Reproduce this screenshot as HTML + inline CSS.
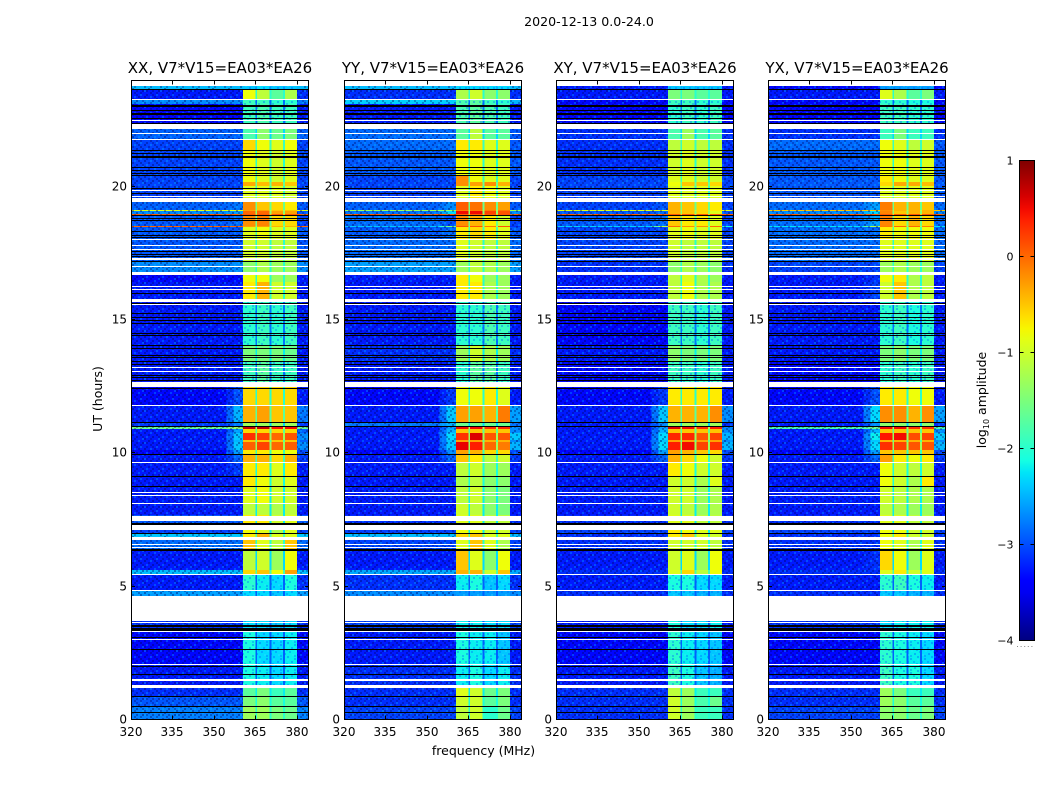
<!DOCTYPE html>
<html lang="en">
<head>
<meta charset="utf-8">
<title>2020-12-13 0.0-24.0</title>
<style>
html,body{margin:0;padding:0;background:#fff;width:1050px;height:800px;overflow:hidden}
svg{display:block}
text{font-family:"DejaVu Sans","Liberation Sans",sans-serif;fill:#000}
</style>
</head>
<body>
<svg id="fig" xmlns="http://www.w3.org/2000/svg" width="1050" height="800" viewBox="0 0 1050 800">
<defs>
<pattern id="speckle" width="16" height="16" patternUnits="userSpaceOnUse">
<rect x="0" y="0" width="2" height="2" fill="#000060" opacity=".4"/>
<rect x="6" y="0" width="2" height="2" fill="#00c8ff" opacity=".3"/>
<rect x="10" y="0" width="2" height="2" fill="#000060" opacity=".35"/>
<rect x="4" y="2" width="2" height="2" fill="#000060" opacity=".35"/>
<rect x="12" y="2" width="2" height="2" fill="#000060" opacity=".4"/>
<rect x="2" y="4" width="2" height="2" fill="#00c8ff" opacity=".3"/>
<rect x="8" y="4" width="2" height="2" fill="#000060" opacity=".4"/>
<rect x="14" y="4" width="2" height="2" fill="#000060" opacity=".3"/>
<rect x="0" y="6" width="2" height="2" fill="#000060" opacity=".35"/>
<rect x="6" y="6" width="2" height="2" fill="#000060" opacity=".3"/>
<rect x="14" y="6" width="2" height="2" fill="#00c8ff" opacity=".3"/>
<rect x="4" y="8" width="2" height="2" fill="#000060" opacity=".4"/>
<rect x="10" y="8" width="2" height="2" fill="#00c8ff" opacity=".3"/>
<rect x="2" y="10" width="2" height="2" fill="#000060" opacity=".3"/>
<rect x="0" y="10" width="2" height="2" fill="#00c8ff" opacity=".3"/>
<rect x="8" y="10" width="2" height="2" fill="#000060" opacity=".35"/>
<rect x="14" y="10" width="2" height="2" fill="#000060" opacity=".4"/>
<rect x="6" y="12" width="2" height="2" fill="#000060" opacity=".35"/>
<rect x="12" y="12" width="2" height="2" fill="#000060" opacity=".3"/>
<rect x="12" y="14" width="2" height="2" fill="#00c8ff" opacity=".3"/>
<rect x="2" y="14" width="2" height="2" fill="#000060" opacity=".35"/>
<rect x="8" y="14" width="2" height="2" fill="#000060" opacity=".3"/>
</pattern>
<pattern id="speckle-band" width="14" height="14" patternUnits="userSpaceOnUse">
<rect x="0" y="0" width="2" height="2" fill="#0060ff" opacity=".4"/>
<rect x="7" y="1" width="2" height="2" fill="#40e0ff" opacity=".3"/>
<rect x="3" y="3" width="2" height="2" fill="#0060ff" opacity=".35"/>
<rect x="11" y="3" width="2" height="2" fill="#0060ff" opacity=".4"/>
<rect x="1" y="6" width="2" height="2" fill="#40e0ff" opacity=".3"/>
<rect x="6" y="5" width="2" height="2" fill="#0060ff" opacity=".35"/>
<rect x="9" y="7" width="2" height="2" fill="#0060ff" opacity=".35"/>
<rect x="4" y="9" width="2" height="2" fill="#0060ff" opacity=".4"/>
<rect x="12" y="10" width="2" height="2" fill="#40e0ff" opacity=".3"/>
<rect x="0" y="11" width="2" height="2" fill="#0060ff" opacity=".35"/>
<rect x="7" y="12" width="2" height="2" fill="#0060ff" opacity=".4"/>
</pattern>
<linearGradient id="jet-gradient" x1="0" y1="1" x2="0" y2="0"></linearGradient>
</defs>
<text x="589" y="26" font-size="12.6" text-anchor="middle">2020-12-13 0.0-24.0</text>
<text x="483.5" y="755" font-size="12.5" text-anchor="middle">frequency (MHz)</text>
<text x="0" y="0" font-size="12.5" text-anchor="middle" transform="translate(102,399) rotate(-90)">UT (hours)</text>
<text x="0" y="0" font-size="12.5" text-anchor="middle" transform="translate(986,400) rotate(-90)">log<tspan font-size="8" dy="3">10</tspan><tspan dy="-3"> amplitude</tspan></text>
</svg>
<script>
// UT (hours) edges of the time regions, bottom to top
var utEdges = [0,.525,.9,1.2,2.06,3.34,3.71,4.65,4.84,5.48,5.63,6.34,6.75,6.98,7.13,7.69,8.14,8.78,9.15,9.68,9.98,10.13,10.43,10.5,10.76,10.92,11.03,11.15,11.81,12.49,13.43,14.06,15.68,16.43,16.8,17.18,18,18.49,18.53,18.92,18.96,19.11,19.14,19.43,20.03,20.18,20.44,21.38,21.75,22.16,23.1,23.25,23.65,23.78,24];
// Frequency (MHz) edges of the columns
var freqEdges = [320,354.5,357,360.5,365,365.6,370,370.8,375,375.6,380,384];
// Which level in a row feeds each column (-1 = notch, -2 = midway between background and shoulder)
var columnSource = [0,-2,1,2,-1,3,-1,4,-1,5,6];
// log10 amplitude in the notches between sub-bands, one per time region
var notchLevels = [-2,-2.1,-2.2,-2.9,-2.9,-2.9,-3,-2.9,-2.9,-1.8,-2.3,-2,-1.8,-2.2,-2.2,-2.2,-2.2,-2.1,-2.1,-1.9,-1.9,-1.3,-1.7,-1.3,-1.7,-1.2,-2.3,-1.7,-2,-2.8,-2.2,-2.8,-2,-2,-2,-2,-1.8,-1.2,-1.6,-.5,-1.4,-1.2,-1.6,-1.9,-1.6,-1.9,-2,-1.9,-2.3,-2.8,-2.8,-2,-2.5,-3];
// Each row: [320-355 background, 357-360.5 shoulder, sub-band 1, 2, 3, 4, 380-384] in log10 amplitude
var levelsXX = [
[-2.75,-2.75,-1.3,-1.3,-1.5,-1.6,-2.75],[-2.95,-2.95,-1.5,-1.4,-1.7,-1.7,-2.95],[-3.15,-3.15,-1.7,-1.5,-1.9,-1.7,-3.15],[-3.25,-3.25,-2.1,-2.2,-2.3,-2.2,-3.25],[-3.35,-3.35,-2.1,-2.3,-2.3,-2.2,-3.35],[-3.15,-3.15,-2.3,-2.3,-2.4,-2.3,-3.15],
[-3.15,-3.15,-3,-3,-3,-3,-3.15],[-2.6,-2.6,-2.3,-2.3,-2.4,-2.3,-2.6],[-3.25,-3.25,-2,-2.2,-2.3,-2.1,-3.15],[-2.45,-2.45,-.6,-.5,-.8,-.3,-2.45],[-3.25,-3.25,-1.1,-1,-1.3,-.8,-3.25],[-2.85,-2.85,-.5,-.9,-1.1,-.5,-2.85],
[-2.4,-2.4,-.7,-.4,-.9,-.9,-2.4],[-3.05,-3.05,-.8,-.9,-1.2,-.9,-3.05],[-2.95,-2.95,-.7,-.7,-1,-.9,-2.95],[-3.25,-3.25,-1.1,-1.1,-1.2,-1.1,-3.25],[-3.25,-3.25,-.9,-.8,-1,-1,-3.25],[-3.25,-3.25,-.7,-.8,-1,-.9,-3.25],
[-3.25,-3.1,-.7,-.7,-.9,-.7,-3.25],[-3.25,-2.9,-.4,-.4,-.6,-.4,-3.1],[-3.35,-2.6,-.7,-.7,-.8,-.8,-3],[-3.25,-2.4,.05,.2,0,.05,-2.7],[-3.25,-2.5,-.5,-.5,-.5,-.5,-2.9],[-3.25,-2.4,.3,.2,0,.1,-2.7],
[-3.25,-2.6,-.6,-.6,-.6,-.6,-2.9],[-1.6,-1.3,.7,.7,.45,.5,-1.6],[-3.1,-2.8,-1.3,-1.3,-1.3,-1.3,-3.1],[-3.25,-2.5,-.4,-.3,-.5,-.5,-2.8],[-3.35,-3,-.6,-.6,-.6,-.6,-3.25],[-3.25,-3.25,-1.9,-1.7,-1.9,-1.9,-3.25],
[-3.25,-3.25,-1.5,-1.5,-1.5,-1.6,-3.25],[-3.25,-3.25,-2,-1.9,-2,-1.9,-3.25],[-3.25,-3.25,-.7,-.4,-1,-1,-3.25],[-3.35,-3.35,-.8,-.8,-1.3,-1.3,-3.25],[-2.7,-2.7,-1.4,-1.2,-1.3,-1.3,-2.7],[-2.95,-2.95,-1,-1,-1.1,-1.1,-2.95],
[-2.95,-2.95,-.9,-.8,-.9,-.9,-2.95],[0,0,-.3,-.3,-.4,-.4,0],[-2.95,-2.85,-.2,-.15,-.6,-.6,-3.05],[.1,.1,.1,.1,.1,.1,.1],[-2.7,-2.6,0,0,-.3,-.3,-2.95],[-.9,-.9,-.3,-.3,-.5,-.5,-.9],
[-2.9,-2.8,-.2,-.5,-.6,-.7,-2.95],[-3.05,-3.05,-.9,-.9,-.9,-1,-3.05],[-3.05,-3.05,-.35,-.45,-.4,-.5,-3.05],[-3.05,-3.05,-.8,-.9,-1,-.9,-3.05],[-3.05,-3.05,-.8,-.9,-1,-.9,-3.05],[-3.05,-3.05,-.6,-.8,-.9,-.8,-3.05],
[-2.9,-2.9,-1.8,-1.4,-1.6,-1.5,-2.9],[-3.35,-3.35,-1.9,-1.8,-1.9,-1.9,-3.25],[-2.7,-2.7,-1.9,-1.9,-2,-2,-2.8],[-3.25,-3.25,-.8,-1.1,-1.7,-1.2,-3.15],[-2.45,-2.45,-2.4,-2.3,-2.4,-2.4,-2.45],[-3,-3,-3,-3,-3,-3,-3]
];
var levelsYY = [
[-3.05,-3.05,-1.1,-1,-2,-1.6,-3.05],[-3.15,-3.15,-1,-1,-1.7,-1.5,-3.15],[-3.15,-3.15,-.9,-1,-1.6,-1.5,-3.15],[-3.15,-3.15,-2.2,-2.1,-2.3,-2.2,-3.15],[-3.25,-3.25,-2.1,-2.2,-2.2,-2.4,-3.25],[-3.05,-3.05,-2.2,-2.2,-2.3,-2.3,-3.05],
[-3.15,-3.15,-3,-3,-3,-3,-3.15],[-2.7,-2.7,-2.6,-2.6,-2.6,-2.6,-2.7],[-3.15,-3.15,-2.2,-2.1,-2.4,-2.3,-3.15],[-2.55,-2.55,-.4,-.4,-1,-.5,-2.55],[-3.25,-3.25,-.5,-.9,-1.4,-.8,-3.25],[-3.05,-3.05,-.9,-.5,-.9,-1.2,-3.05],
[-2.45,-2.45,-.6,-.5,-.9,-.9,-2.45],[-3.05,-3.05,-.8,-.8,-1,-1,-3.05],[-3.15,-3.15,-.9,-.9,-1.1,-1.1,-3.15],[-3.25,-3.25,-1,-1.1,-1.4,-1.5,-3.25],[-3.25,-3.25,-1.1,-1,-1.4,-1.5,-3.25],[-3.25,-3.25,-1.2,-1.1,-1.4,-1.4,-3.25],
[-3.25,-3.25,-1.1,-1,-1.3,-1.3,-3.25],[-3.25,-2.9,-.5,-.7,-1.1,-1,-3.1],[-3.35,-2.7,-.3,-.4,-.6,-.6,-3],[-3.25,-2.4,.55,.4,0,-.1,-2.5],[-3.25,-2.4,-.3,-.3,-.4,-.4,-2.7],[-3.25,-2.3,.3,.6,.1,.1,-2.4],
[-3.25,-2.5,-.5,-.5,-.5,-.5,-2.7],[-3.25,-2.6,.5,.5,.3,.35,-2.7],[-2.8,-2.5,-1.6,-1.6,-1.6,-1.6,-2.8],[-3.25,-2.4,-.3,-.3,-.4,-.1,-2.6],[-3.35,-3.1,-.8,-.8,-.7,-.9,-3.25],[-3.25,-3.25,-2,-1.7,-1.7,-1.9,-3.25],
[-3.15,-3.15,-1.3,-1,-1.2,-1.3,-3.15],[-3.25,-3.25,-2,-2,-1.8,-1.9,-3.25],[-3.25,-3.25,-.7,-.7,-1.2,-1.3,-3.25],[-3.25,-3.25,-.7,-.8,-1.3,-1.3,-3.25],[-2.6,-2.6,-1.3,-1.1,-1.2,-1.3,-2.6],[-2.85,-2.85,-.9,-1,-1.1,-1.1,-2.85],
[-2.95,-2.85,-.7,-.6,-.7,-.9,-2.95],[-2.4,-1.5,.1,.1,-.1,.1,-3.15],[-2.85,-3,-.2,-.4,-.7,-1,-3.05],[.1,.1,.1,.1,.1,.1,.1],[-2.8,-2.3,.5,.5,.2,.1,-2.7],[-1.3,-1.3,-.1,-.1,-.1,-.1,-1.3],
[-2.9,-2.7,.05,-.05,-.2,-.3,-2.95],[-3.05,-3.05,-.9,-.7,-.8,-.9,-3.05],[-3.05,-3.05,-.2,-.3,-.2,-.4,-3.05],[-3.05,-3.05,-.2,-.8,-.9,-.9,-3.05],[-2.95,-2.95,-.8,-.8,-.9,-.9,-2.95],[-2.85,-2.85,-.7,-.7,-.9,-.9,-2.95],
[-2.85,-2.85,-1.7,-1.1,-1.7,-1.7,-2.95],[-3.25,-3.25,-1.8,-1.7,-1.8,-1.9,-3.25],[-2.35,-2.35,-1.8,-1.7,-1.9,-2,-2.5],[-3.15,-3.15,-1.2,-1,-1.4,-1.4,-3.15],[-2.45,-2.45,-2.3,-2.3,-2.3,-2.3,-2.45],[-3,-3,-3,-3,-3,-3,-3]
];
var levelsXY = [
[-3.15,-3.15,-1,-1.3,-1.9,-1.9,-3.15],[-3.15,-3.15,-1,-1.3,-1.8,-1.6,-3.15],[-3.15,-3.15,-1.1,-1.3,-1.9,-1.9,-3.15],[-3.25,-3.25,-1.9,-2.1,-2.4,-2.5,-3.25],[-3.35,-3.35,-2,-2.2,-2.3,-2.4,-3.35],[-3.25,-3.25,-2.1,-2.3,-2.3,-2.2,-3.25],
[-3.15,-3.15,-3,-3,-3,-3,-3.15],[-3.15,-3.15,-2.4,-2.4,-2.5,-2.5,-3.15],[-3.25,-3.25,-2.1,-2.1,-2.3,-2.3,-3.25],[-3.15,-3.15,-.9,-.6,-1.1,-.8,-3.15],[-3.25,-3.25,-1,-.9,-1.3,-.8,-3.25],[-3.15,-3.15,-1,-1,-1,-1.1,-3.15],
[-3.15,-3.15,-.7,-.5,-.9,-1,-3.15],[-3.05,-3.05,-.7,-.8,-.9,-.9,-3.05],[-3.15,-3.15,-.9,-.9,-1.1,-1.1,-3.15],[-3.25,-3.25,-1,-1.1,-1.3,-1.2,-3.25],[-3.25,-3.25,-1,-1,-1.3,-1.2,-3.25],[-3.25,-3.25,-1,-1,-1.2,-.9,-3.25],
[-3.25,-3.25,-.7,-.8,-1,-1,-3.25],[-3.25,-2.9,-.4,-.6,-.8,-1,-3.1],[-3.35,-2.6,-.3,-.4,-.5,-.6,-3],[-3.25,-2.3,.4,.5,.2,.3,-2.5],[-3.25,-2.4,-.3,-.3,-.3,-.3,-2.7],[-3.25,-2.3,.35,.35,.1,.2,-2.5],
[-3.25,-2.5,-.5,-.5,-.5,-.5,-2.7],[-3.25,-2.6,.6,.5,.3,.4,-2.7],[-3.25,-2.7,-1.3,-1.3,-1.3,-1.3,-3.15],[-3.25,-2.4,-.4,-.4,-.4,-.2,-2.7],[-3.35,-3.1,-.7,-.7,-.7,-.7,-3.25],[-3.35,-3.35,-1.9,-1.9,-2,-1.9,-3.25],
[-3.25,-3.25,-1.4,-1.5,-1.5,-1.5,-3.25],[-3.35,-3.35,-1.9,-1.9,-2,-1.9,-3.25],[-3.25,-3.25,-1.1,-.8,-1.2,-1.2,-3.25],[-3.25,-3.25,-1.1,-.9,-1.2,-1.3,-3.25],[-3.15,-3.15,-1.4,-1.2,-1.3,-1.4,-3.15],[-3.05,-3.05,-1,-1.1,-1.1,-1.1,-3.05],
[-3.05,-3.05,-.9,-.8,-.9,-.9,-3.05],[-2.35,-1.2,0,-.2,-.2,0,-2.1],[-2.95,-2.85,-.5,-.7,-.7,-.9,-3.05],[.1,.1,.1,.1,.1,.1,.1],[-2.95,-2.85,-.4,-.5,-.6,-.9,-2.95],[-.9,-.9,-.4,-.5,-.6,-.7,-.9],
[-3.05,-2.95,-.4,-.5,-.6,-.7,-3.05],[-3.05,-3.05,-.9,-.9,-.9,-.9,-3.05],[-3.05,-3.05,-.8,-.5,-.5,-.6,-3.05],[-3.05,-3.05,-.9,-.9,-1,-1,-3.05],[-3.15,-3.15,-1,-.9,-1,-1,-3.15],[-3.15,-3.15,-1.1,-1,-1.1,-1.1,-3.15],
[-3.15,-3.15,-1.8,-1.3,-1.8,-1.7,-3.15],[-3.35,-3.35,-2,-1.9,-2,-1.9,-3.35],[-3.35,-3.35,-1.9,-1.9,-2,-2,-3.35],[-3.25,-3.25,-1.5,-1.5,-1.7,-1.7,-3.25],[-3.25,-3.25,-2.4,-2.4,-2.4,-2.4,-3.25],[-3,-3,-3,-3,-3,-3,-3]
];
var levelsYX = [
[-3.05,-3.05,-1.4,-1.4,-1.6,-1.5,-3.05],[-3.15,-3.15,-1.3,-1.4,-1.7,-1.7,-3.15],[-3.15,-3.15,-1.3,-1.5,-1.9,-1.9,-3.15],[-3.25,-3.25,-1.9,-2.1,-2.1,-2.3,-3.25],[-3.35,-3.35,-2,-2.1,-2.2,-2.3,-3.35],[-3.15,-3.15,-2.3,-2.2,-2.2,-2.2,-3.15],
[-3.15,-3.15,-3,-3,-3,-3,-3.15],[-3.15,-3.15,-2.4,-2.4,-2.5,-2.5,-3.15],[-3.25,-3.25,-2,-1.9,-2.1,-2.2,-3.25],[-3.15,-3.15,-.9,-.7,-1,-.9,-3.15],[-3.25,-3.15,-.6,-.8,-1.3,-.9,-3.25],[-3.15,-3.15,-.8,-.9,-1.2,-.9,-3.15],
[-3.15,-3.15,-.8,-.7,-1,-1,-3.15],[-3.05,-3.05,-.8,-.8,-1,-1,-3.05],[-3.15,-3.15,-.9,-.9,-1.1,-1.1,-3.15],[-3.25,-3.25,-1.1,-1.2,-1.3,-1.3,-3.25],[-3.25,-3.25,-1,-1.1,-1.2,-1.2,-3.25],[-3.25,-3.25,-.8,-1,-1.2,-.7,-3.25],
[-3.25,-3.25,-.8,-1,-1.1,-1,-3.25],[-3.25,-2.9,-.3,-.7,-.8,-.7,-3.1],[-3.35,-2.6,-.5,-.5,-.5,-.5,-3],[-3.25,-2.3,.3,.2,.1,.1,-2.5],[-3.25,-2.4,-.4,-.4,-.4,-.4,-2.7],[-3.25,-2.2,.45,.5,.15,.2,-2.4],
[-3.25,-2.5,-.5,-.5,-.5,-.5,-2.7],[-1.8,-1.6,.5,.5,.3,.3,-1.8],[-3.25,-2.7,-1.4,-1.4,-1.4,-1.4,-3.15],[-3.25,-2.3,-.2,-.2,-.4,-.2,-2.6],[-3.35,-3,-.7,-.7,-.8,-.8,-3.25],[-3.35,-3.35,-2,-1.9,-2,-1.9,-3.25],
[-3.25,-3.25,-1.5,-1.4,-1.5,-1.5,-3.25],[-3.25,-3.25,-2,-1.9,-2.1,-2,-3.25],[-3.25,-3.05,-1,-.5,-1.2,-1.1,-3.25],[-3.25,-3.15,-.8,-.7,-1.2,-1.1,-3.25],[-3.05,-3.05,-1.3,-1.2,-1.3,-1.3,-3.05],[-2.85,-2.85,-.9,-.9,-.9,-.9,-2.85],
[-2.85,-2.85,-.7,-.8,-.8,-.8,-2.85],[-2.25,-1.2,-.1,0,0,-.1,-2.25],[-2.85,-2.6,-.15,-.6,-.4,-.6,-2.85],[.1,.1,.1,.1,.1,.1,.1],[-2.7,-2.3,-.15,-.5,-.4,-.4,-2.7],[-.5,-.5,-.2,-.4,-.4,-.4,-.5],
[-2.85,-2.6,-.1,-.4,-.4,-.5,-2.85],[-2.95,-2.95,-.9,-.9,-.9,-.9,-2.95],[-2.95,-2.95,-.6,-.35,-.35,-.45,-2.95],[-2.95,-2.95,-.7,-.8,-.9,-.9,-2.95],[-2.95,-2.95,-.8,-.8,-.9,-.9,-2.95],[-2.85,-2.85,-.8,-.9,-1.1,-1,-2.95],
[-3.15,-3.15,-1.9,-1.5,-1.9,-1.9,-3.15],[-3.35,-3.35,-1.9,-1.9,-2,-2,-3.35],[-3.35,-3.35,-2,-2,-2.1,-2.1,-3.35],[-3.25,-3.25,-.9,-1.2,-1.7,-1.5,-3.25],[-3.35,-3.35,-2.6,-2.6,-2.6,-2.6,-3.35],[-3,-3,-3,-3,-3,-3,-3]
];
// Flagged time ranges in UT hours: white = no data, black = zero amplitude
var whiteFlagsUT = [[1.21,1.31],[1.46,1.53],[2.06,2.09],[3.01,3.04],[3.31,3.34],[3.66,3.69],[3.71,4.66],[4.85,4.88],[5.45,5.48],[6.45,6.49],[6.55,6.59],[6.75,6.87],[7.13,7.31],[7.46,7.66],[8.11,8.14],[8.4,8.44],[8.51,8.55],[9.65,9.68],[11.79,11.81],[12.5,12.69],[13.05,13.09],[13.21,13.25],[15.56,15.6],[15.66,15.79],[16.14,16.17],[16.24,16.28],[16.69,16.81],[16.99,17.03],[17.25,17.31],[17.64,17.67],[17.79,17.82],[17.99,18.03],[19.41,19.56],[19.6,19.65],[19.83,19.88],[21.75,21.79],[21.98,22.02],[22.16,22.34],[22.46,22.5],[23.25,23.28],[23.78,24]];
var blackFlagsUT = [[.26,.3],[.49,.53],[.86,.9],[1.69,1.73],[1.99,2.03],[2.63,2.66],[3.08,3.11],[3.35,3.45],[3.5,3.56],[6.34,6.41],[6.98,7.01],[7.32,7.38],[8.74,8.78],[9.11,9.15],[9.94,9.98],[11.01,11.04],[11.14,11.19],[12.41,12.45],[12.71,12.75],[12.83,12.86],[12.92,12.94],[13.33,13.35],[13.44,13.46],[13.57,13.6],[13.67,13.69],[13.94,13.96],[14.04,14.06],[14.42,14.44],[14.5,14.52],[14.86,14.89],[14.99,15.01],[15.09,15.11],[15.23,15.26],[15.61,15.64],[15.99,16.01],[17.17,17.2],[17.36,17.39],[17.46,17.49],[17.58,17.6],[18.09,18.11],[18.18,18.2],[18.3,18.33],[18.74,18.76],[18.82,18.84],[18.9,18.92],[19.74,19.76],[19.92,19.95],[20.42,20.45],[20.5,20.53],[20.61,20.63],[20.73,20.75],[21.09,21.11],[21.14,21.16],[21.26,21.28],[21.36,21.38],[22.36,22.39],[22.57,22.59],[22.71,22.73],[22.74,22.76],[22.84,22.86],[23.01,23.03],[23.05,23.07],[23.63,23.66]];
var panelTitles = ['XX, V7*V15=EA03*EA26','YY, V7*V15=EA03*EA26','XY, V7*V15=EA03*EA26','YX, V7*V15=EA03*EA26'];
var panelNames = ['xx','yy','xy','yx'];
var xTickLabels = [320,335,350,365,380];
var yTickLabels = [0,5,10,15,20];
var colorbarTicks = [-4,-3,-2,-1,0,1];

var NS = 'http://www.w3.org/2000/svg';
var fig = document.getElementById('fig');
var panelLefts = [131, 344, 556, 768];
var panelWidth = 177, plotTop = 80.5, plotBottom = 719.5;
var freqMin = 320, freqMax = 384, utMax = 24, cMin = -4, cMax = 1;
var dimRowLimit = -1.6;
var panelLevels = [levelsXX, levelsYY, levelsXY, levelsYX];

function make(tag, attrs, parent) {
  var el = document.createElementNS(NS, tag);
  for (var k in attrs) el.setAttribute(k, attrs[k]);
  parent.appendChild(el);
  return el;
}
function segment(t, pts) {
  for (var i = 1; i < pts.length; i++) {
    if (t <= pts[i][0]) {
      var a = pts[i - 1], b = pts[i];
      return a[1] + (b[1] - a[1]) * (t - a[0]) / (b[0] - a[0]);
    }
  }
  return pts[pts.length - 1][1];
}
function jet(v) {
  var t = Math.max(0, Math.min(1, (v - cMin) / (cMax - cMin)));
  var r = segment(t, [[0,0],[.35,0],[.66,1],[.89,1],[1,.5]]);
  var g = segment(t, [[0,0],[.125,0],[.375,1],[.64,1],[.91,0],[1,0]]);
  var b = segment(t, [[0,.5],[.11,1],[.34,1],[.65,0],[1,0]]);
  return 'rgb(' + Math.round(r * 255) + ',' + Math.round(g * 255) + ',' + Math.round(b * 255) + ')';
}
function xScale(left, f) { return left + (f - freqMin) / (freqMax - freqMin) * panelWidth; }
function yScale(ut) { return 720 - ut / utMax * 640; }

panelLefts.forEach(function (left, p) {
  var g = make('g', {}, fig);
  
  
  var levels = panelLevels[p];
  for (var r = 0; r < utEdges.length - 1; r++) {
    var yTop = Math.round(yScale(utEdges[r + 1]));
    var yBot = Math.round(yScale(utEdges[r]));
    if (yBot <= yTop) yBot = yTop + 1;
    for (var c = 0; c < columnSource.length; c++) {
      var src = columnSource[c];
      var val = src === -1 ? notchLevels[r] : src === -2 ? (levels[r][0] + levels[r][1]) / 2 : levels[r][src];
      var x0 = xScale(left, freqEdges[c]), x1 = xScale(left, freqEdges[c + 1]);
      var cell = make('rect', {x: x0.toFixed(2), y: yTop, width: (x1 - x0).toFixed(2), height: yBot - yTop, fill: jet(val), 'shape-rendering': 'crispEdges'}, g);
      
      
    }
    if (Math.max(levels[r][2], levels[r][3], levels[r][4], levels[r][5]) < dimRowLimit) {
      var bx = xScale(left, 360.5);
      var bandNoise = make('rect', {x: bx, y: yTop, width: xScale(left, 380) - bx, height: yBot - yTop, fill: 'url(#speckle-band)', 'shape-rendering': 'crispEdges'}, g);
      
      
    }
  }
  var noiseLow = make('rect', {x: xScale(left, 320), y: 81, width: xScale(left, 360.5) - xScale(left, 320), height: 639, fill: 'url(#speckle)', 'shape-rendering': 'crispEdges'}, g);
  
  
  var noiseHigh = make('rect', {x: xScale(left, 380), y: 81, width: xScale(left, 384) - xScale(left, 380), height: 639, fill: 'url(#speckle)', 'shape-rendering': 'crispEdges'}, g);
  
  

  blackFlagsUT.forEach(function (f) {
    var t = Math.round(yScale(f[1])), b = Math.round(yScale(f[0]));
    if (b <= t) b = t + 1;
    var line = make('rect', {x: left, y: t, width: panelWidth, height: b - t, fill: '#000', 'shape-rendering': 'crispEdges'}, g);
    
    
  });
  whiteFlagsUT.forEach(function (f) {
    var t = Math.round(yScale(f[1])), b = Math.round(yScale(f[0]));
    if (b <= t) b = t + 1;
    var band = make('rect', {x: left, y: t, width: panelWidth, height: b - t, fill: '#fff', 'shape-rendering': 'crispEdges'}, g);
    
    
  });

  var frame = make('rect', {x: left + .5, y: plotTop, width: panelWidth, height: plotBottom - plotTop, fill: 'none', stroke: '#000', 'stroke-width': 1}, g);
  
  

  xTickLabels.forEach(function (f) {
    var x = Math.round(xScale(left, f)) + .5;
    var tb = make('line', {x1: x, x2: x, y1: plotBottom, y2: plotBottom - 4, stroke: '#000'}, g);
    
    
    var tt = make('line', {x1: x, x2: x, y1: plotTop, y2: plotTop + 4, stroke: '#000'}, g);
    
    
    var lab = make('text', {x: x - .5, y: 736, 'font-size': 12, 'text-anchor': 'middle'}, g);
    
    
    lab.textContent = f;
  });
  yTickLabels.forEach(function (u) {
    var y = Math.round(yScale(u)) - .5;
    var tl = make('line', {x1: left, x2: left + 4, y1: y, y2: y, stroke: '#000'}, g);
    
    
    var tr = make('line', {x1: left + panelWidth + 1, x2: left + panelWidth - 3, y1: y, y2: y, stroke: '#000'}, g);
    
    
    var lab = make('text', {x: left - 4, y: y + 4, 'font-size': 12, 'text-anchor': 'end'}, g);
    
    
    lab.textContent = u;
  });
  var title = make('text', {x: left + panelWidth / 2 + .5, y: 73, 'font-size': 15, 'text-anchor': 'middle'}, g);
  
  
  title.textContent = panelTitles[p];
});

// Colorbar
var grad = document.getElementById('jet-gradient');
for (var s = 0; s <= 40; s++) {
  make('stop', {offset: s / 40, 'stop-color': jet(cMin + (cMax - cMin) * s / 40)}, grad);
}
var cbar = make('g', {}, fig);


var cbLeft = 1019.5, cbWidth = 15, cbTop = 160.5, cbBottom = 640.5;
function cbScale(v) { return cbBottom - (v - cMin) / (cMax - cMin) * (cbBottom - cbTop); }
var cbFill = make('rect', {x: cbLeft, y: cbTop, width: cbWidth, height: cbBottom - cbTop, fill: 'url(#jet-gradient)', stroke: '#000'}, cbar);


colorbarTicks.forEach(function (v) {
  var y = cbScale(v);
  var t1 = make('line', {x1: cbLeft, x2: cbLeft + 4, y1: y, y2: y, stroke: '#000'}, cbar);
  
  
  var t2 = make('line', {x1: cbLeft + cbWidth, x2: cbLeft + cbWidth - 4, y1: y, y2: y, stroke: '#000'}, cbar);
  
  
  var lab = make('text', {x: 1013.5, y: y + 4, 'font-size': 11, 'text-anchor': 'end'}, cbar);
  
  
  lab.textContent = String(v).replace('-', '\u2212');
});
var cbDots = make('line', {x1: 1017, x2: 1035, y1: 646.5, y2: 646.5, stroke: '#888', 'stroke-dasharray': '1 2.6'}, cbar);


</script>
</body>
</html>
